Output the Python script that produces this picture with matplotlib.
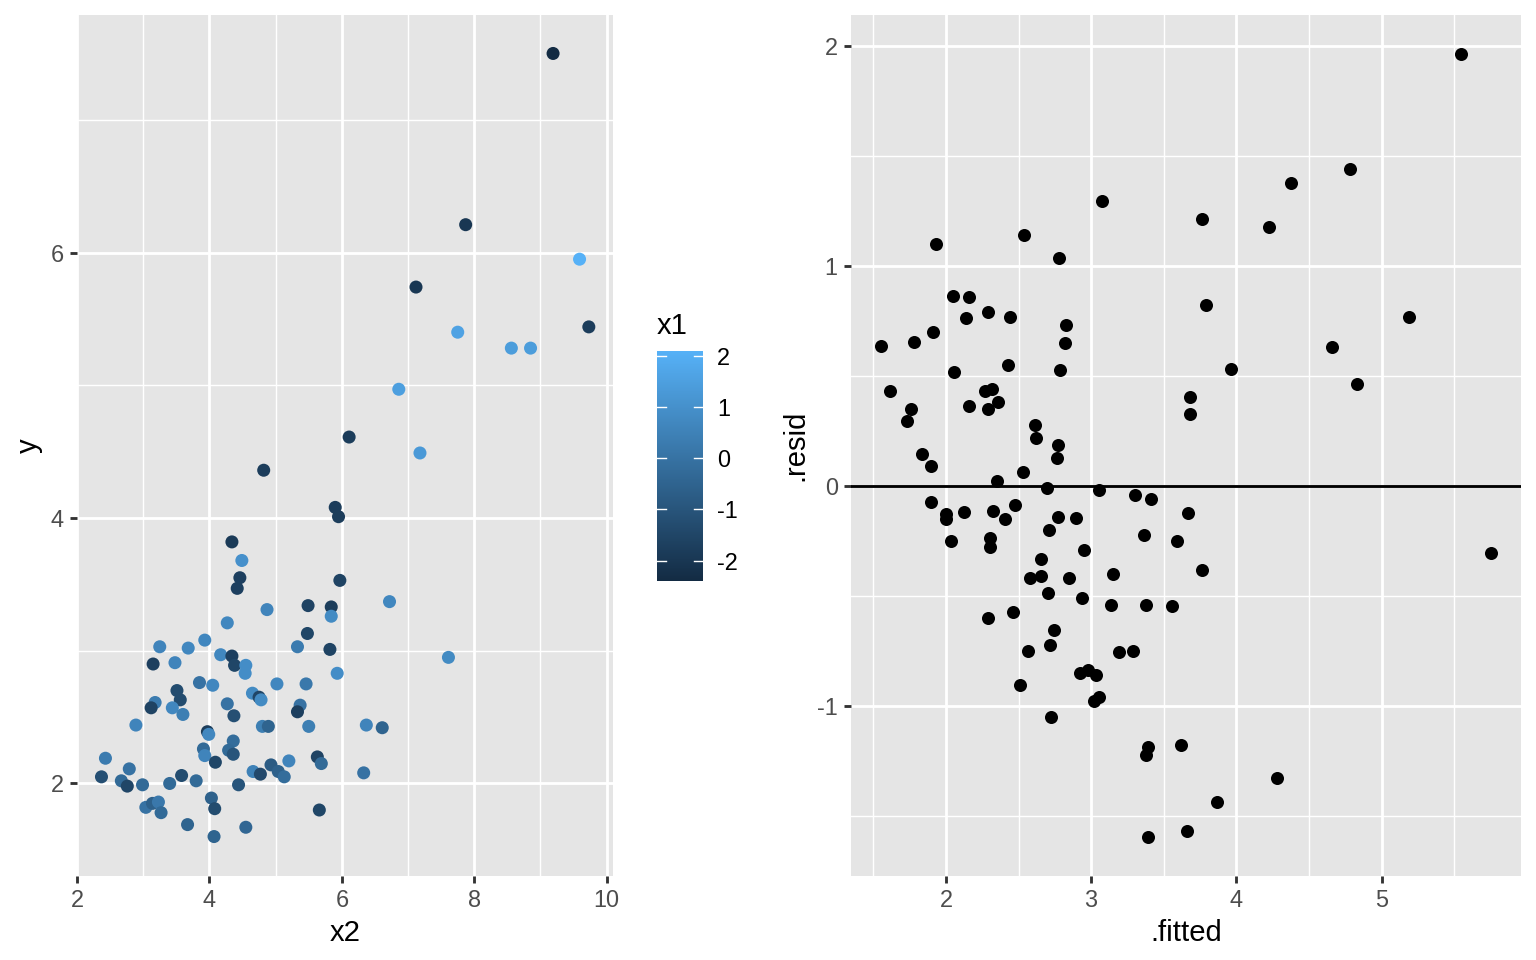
import matplotlib.pyplot as plt
from matplotlib.colors import LinearSegmentedColormap
from matplotlib.ticker import MultipleLocator

# left panel: y against x2, coloured by x1
x2 = [9.19, 7.87, 9.59, 7.12, 9.73, 7.75, 8.56, 8.85, 6.86, 6.11,
      7.18, 4.82, 5.90, 5.95, 7.61, 4.34, 4.49, 4.46, 4.42, 5.97,
      6.72, 4.87, 5.49, 5.84, 5.84, 4.27, 5.48, 3.93, 3.25, 3.68,
      5.33, 5.82, 4.17, 4.34, 3.15, 3.48, 4.38, 4.55, 4.54, 5.93,
      3.85, 4.05, 5.02, 5.46, 3.51, 4.65, 4.75, 4.78, 3.18, 3.56,
      3.12, 3.44, 3.60, 4.27, 5.37, 5.33, 4.37, 2.89, 4.80, 4.89,
      5.50, 6.37, 6.61, 3.97, 3.99, 4.36, 3.91, 4.29, 4.36, 3.93,
      4.09, 2.43, 2.79, 5.63, 5.69, 5.20, 4.93, 5.04, 5.13, 4.66,
      4.77, 6.33, 2.37, 2.67, 2.76, 2.99, 3.40, 3.58, 3.80, 4.44,
      4.03, 4.08, 3.04, 3.14, 3.23, 3.27, 3.67, 4.07, 4.55, 5.66]
y = [7.50, 6.21, 5.95, 5.74, 5.44, 5.40, 5.28, 5.28, 4.97, 4.61,
     4.49, 4.36, 4.08, 4.01, 2.95, 3.82, 3.68, 3.55, 3.47, 3.53,
     3.37, 3.31, 3.34, 3.33, 3.26, 3.21, 3.13, 3.08, 3.03, 3.02,
     3.03, 3.01, 2.97, 2.96, 2.90, 2.91, 2.89, 2.89, 2.83, 2.83,
     2.76, 2.74, 2.75, 2.75, 2.70, 2.68, 2.65, 2.63, 2.61, 2.63,
     2.57, 2.57, 2.52, 2.60, 2.59, 2.54, 2.51, 2.44, 2.43, 2.43,
     2.43, 2.44, 2.42, 2.39, 2.37, 2.32, 2.26, 2.25, 2.22, 2.21,
     2.16, 2.19, 2.11, 2.20, 2.15, 2.17, 2.14, 2.09, 2.05, 2.09,
     2.07, 2.08, 2.05, 2.02, 1.98, 1.99, 2.00, 2.06, 2.02, 1.99,
     1.89, 1.81, 1.82, 1.85, 1.86, 1.78, 1.69, 1.60, 1.67, 1.80]
x1 = [-2.4, -2.0, 2.1, -2.0, -1.8, 1.6, 1.4, 1.4, 1.5, -1.8,
      1.3, -1.8, -1.8, -1.8, 0.8, -1.9, 1.0, -1.7, -1.7, -1.6,
      0.7, 0.6, -1.6, -1.8, 0.8, 0.7, -1.5, 0.7, 0.6, 0.7,
      0.3, -1.6, 0.7, -1.7, -1.7, 0.6, -1.5, 0.9, 0.9, 0.9,
      0.0, 0.7, 0.7, 0.2, -1.3, 0.8, -1.5, 0.8, 0.3, -1.3,
      -1.6, 0.7, 0.4, 0.0, 0.0, -1.7, -1.2, 0.6, 0.4, -0.5,
      0.4, 0.6, -0.5, -1.8, 0.7, -0.2, -0.3, -0.3, -1.0, 0.6,
      -1.5, 0.3, 0.0, -1.6, -0.3, 0.6, -0.8, -0.6, -0.2, 0.5,
      -1.4, 0.0, -1.2, -0.3, -1.5, -0.3, -0.3, -1.3, -0.3, -1.0,
      -0.6, -1.3, 0.0, -0.6, 0.2, -0.3, -0.5, -0.5, -0.4, -1.5]

# right panel: residuals against fitted values
fitted = [3.076, 3.761, 1.933, 2.540, 2.779, 2.046, 2.161, 3.793, 2.290, 2.443,
          2.138, 1.912, 2.826, 2.821, 1.554, 1.779, 2.426, 2.055, 2.784, 1.614,
          2.271, 2.317, 2.357, 2.161, 2.288, 1.757, 1.729, 3.678, 3.683, 2.616,
          2.621, 2.774, 2.763, 1.832, 1.897, 2.533, 2.352, 2.694, 3.057, 3.301,
          3.409, 1.899, 1.998, 2.002, 2.124, 2.324, 2.476, 2.407, 2.774, 2.894,
          2.710, 3.664, 3.361, 3.588, 2.032, 2.301, 2.301, 2.954, 2.655, 2.581,
          2.655, 2.848, 3.154, 3.761, 2.701, 2.938, 3.138, 3.377, 3.559, 2.288,
          2.460, 2.745, 2.717, 2.566, 3.191, 3.288, 2.924, 2.979, 3.034, 2.510,
          3.023, 3.053, 2.726, 3.393, 3.377, 3.619, 3.393, 3.660, 5.757, 4.283,
          3.867, 5.550, 4.786, 4.374, 4.226, 5.191, 4.662, 3.961, 4.834]
resid = [1.294, 1.214, 1.101, 1.141, 1.036, 0.864, 0.860, 0.824, 0.790, 0.768,
         0.765, 0.700, 0.730, 0.650, 0.638, 0.656, 0.549, 0.517, 0.529, 0.433,
         0.432, 0.441, 0.383, 0.364, 0.349, 0.350, 0.295, 0.403, 0.326, 0.277,
         0.217, 0.186, 0.129, 0.144, 0.092, 0.064, 0.023, -0.009, -0.020, -0.040,
         -0.059, -0.074, -0.129, -0.151, -0.120, -0.115, -0.086, -0.150, -0.141, -0.144,
         -0.201, -0.121, -0.224, -0.250, -0.249, -0.236, -0.276, -0.291, -0.333, -0.420,
         -0.408, -0.420, -0.400, -0.383, -0.485, -0.510, -0.542, -0.540, -0.545, -0.600,
         -0.573, -0.655, -0.723, -0.750, -0.755, -0.749, -0.851, -0.836, -0.859, -0.905,
         -0.976, -0.960, -1.049, -1.188, -1.223, -1.177, -1.594, -1.570, -0.303, -1.329,
         -1.438, 1.965, 1.440, 1.376, 1.179, 0.767, 0.630, 0.533, 0.462]

plt.rcParams['font.family'] = ['Liberation Sans', 'DejaVu Sans']
plt.rcParams['axes.unicode_minus'] = False

fig = plt.figure(figsize=(15.36, 9.6), dpi=100)
ax1 = fig.add_axes([0.0499, 0.0878, 0.3494, 0.8966])
ax2 = fig.add_axes([0.554, 0.0878, 0.4362, 0.8966])
cax = fig.add_axes([0.4275, 0.3948, 0.0303, 0.2396])

gg_blue = LinearSegmentedColormap.from_list('gg_blue', ['#132B43', '#56B1F7'])


def gg_look(ax, major_x, major_y):
    ax.set_facecolor('#E5E5E5')
    for s in ax.spines.values():
        s.set_visible(False)
    ax.xaxis.set_major_locator(MultipleLocator(major_x))
    ax.xaxis.set_minor_locator(MultipleLocator(major_x / 2))
    ax.yaxis.set_major_locator(MultipleLocator(major_y))
    ax.yaxis.set_minor_locator(MultipleLocator(major_y / 2))
    ax.grid(which='major', color='white', lw=2.05)
    ax.grid(which='minor', color='white', lw=1.0)
    ax.set_axisbelow(True)
    ax.tick_params(which='major', length=5.3, width=2.05, color='#333333',
                   labelsize=16.9, labelcolor='#4D4D4D', pad=4.2)
    ax.tick_params(which='minor', length=0)


sc = ax1.scatter(x2, y, c=x1, cmap=gg_blue, s=88, linewidths=0,
                 vmin=min(x1), vmax=max(x1))
gg_look(ax1, 2, 2)
ax1.set_xlim(1.995, 10.10)
ax1.set_ylim(1.305, 7.79)
ax1.set_xlabel('x2', fontsize=21.1, labelpad=5.3)
ax1.set_ylabel('y', fontsize=21.1, labelpad=5.3)

ax2.scatter(fitted, resid, color='black', s=88, linewidths=0)
ax2.axhline(0, color='black', lw=2.05)
gg_look(ax2, 1, 1)
ax2.set_xlim(1.346, 5.96)
ax2.set_ylim(-1.771, 2.141)
ax2.set_xlabel('.fitted', fontsize=21.1, labelpad=5.3)
ax2.set_ylabel('.resid', fontsize=21.1, labelpad=5.3)

# colour bar legend
cb = fig.colorbar(sc, cax=cax)
cb.outline.set_visible(False)
cb.set_ticks([-2, -1, 0, 1, 2])
cax.tick_params(length=0, labelsize=16.9, labelcolor='black', pad=10)
for t in [-2, -1, 0, 1, 2]:
    cax.plot([0, 0.2], [t, t], color='white', lw=1.0, transform=cax.get_yaxis_transform())
    cax.plot([0.8, 1], [t, t], color='white', lw=1.0, transform=cax.get_yaxis_transform())
fig.text(0.4275, 0.6604, 'x1', fontsize=21.1, va='center', ha='left')

plt.savefig('out.png', dpi=100)
